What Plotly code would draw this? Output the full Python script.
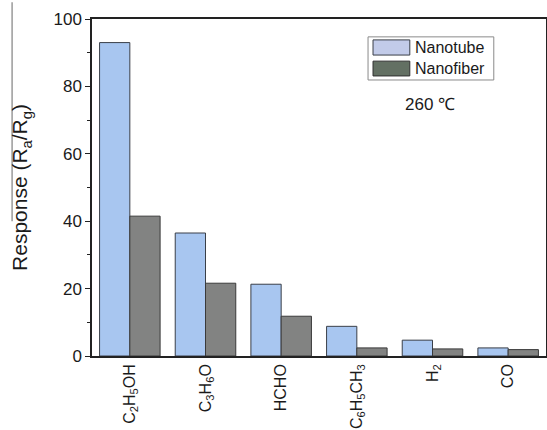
import plotly.graph_objects as go

# Gas response of the two sensor morphologies at 260 °C
gases = ["C<sub>2</sub>H<sub>5</sub>OH", "C<sub>3</sub>H<sub>6</sub>O", "HCHO",
         "C<sub>6</sub>H<sub>5</sub>CH<sub>3</sub>", "H<sub>2</sub>", "CO"]
nanotube = [93.0, 36.5, 21.3, 8.8, 4.7, 2.4]
nanofiber = [41.5, 21.6, 11.8, 2.4, 2.1, 1.9]
y_ticks = [0, 20, 40, 60, 80, 100]
series_names = ["Nanotube", "Nanofiber"]

tube_color = "#a8c6f0"
fiber_color = "#828382"
positions = list(range(len(gases)))

fig = go.Figure()
fig.add_trace(go.Bar(
    x=positions, y=nanotube, name=series_names[0],
    marker=dict(color=tube_color, line=dict(color="#3a3f48", width=1)),
))
fig.add_trace(go.Bar(
    x=positions, y=nanofiber, name=series_names[1],
    marker=dict(color=fiber_color, line=dict(color="#3a3a3a", width=1)),
))

# Boxed key with wide swatches, placed in the upper right of the plot
key_shapes = [
    dict(type="rect", xref="paper", yref="paper",
         x0=0.608, x1=0.885, y0=0.819, y1=0.947,
         fillcolor="white", line=dict(color="#8a8a8a", width=1), layer="above"),
    dict(type="rect", xref="paper", yref="paper",
         x0=0.619, x1=0.700, y0=0.893, y1=0.938,
         fillcolor="#c2cbe9", line=dict(color="#3a3f48", width=1), layer="above"),
    dict(type="rect", xref="paper", yref="paper",
         x0=0.619, x1=0.700, y0=0.831, y1=0.875,
         fillcolor="#637063", line=dict(color="#2f2f2f", width=1), layer="above"),
]
key_labels = [
    dict(text=series_names[0], x=0.706, y=0.915, xref="paper", yref="paper",
         xanchor="left", yanchor="middle", showarrow=False,
         font=dict(size=16, color="#1a1a1a")),
    dict(text=series_names[1], x=0.706, y=0.853, xref="paper", yref="paper",
         xanchor="left", yanchor="middle", showarrow=False,
         font=dict(size=16, color="#1a1a1a")),
]

fig.update_layout(
    width=547, height=430,
    margin=dict(l=92, r=1, t=19, b=74),
    paper_bgcolor="white", plot_bgcolor="white",
    barmode="group", bargap=0.2, bargroupgap=0,
    font=dict(family="Liberation Sans, Arial", color="#1a1a1a"),
    showlegend=False,
    xaxis=dict(
        range=[-0.5, 5.5],
        tickmode="array", tickvals=positions, ticktext=gases,
        tickangle=-90, tickfont=dict(size=16),
        showline=True, linecolor="#222222", linewidth=1.5,
        mirror=True, ticks="", showgrid=False, zeroline=False,
        automargin=False,
    ),
    yaxis=dict(
        range=[0, 100],
        tickmode="array", tickvals=y_ticks,
        tickfont=dict(size=17),
        ticks="outside", ticklen=5, tickcolor="#222222",
        minor=dict(tickmode="array", tickvals=[10, 30, 50, 70, 90],
                   ticks="outside", ticklen=3, tickcolor="#222222"),
        showline=True, linecolor="#222222", linewidth=1.5,
        mirror=True, showgrid=False, zeroline=False,
        title=dict(text="Response (R<sub>a</sub>/R<sub>g</sub>)",
                   font=dict(size=21), standoff=20),
        automargin=False,
    ),
    annotations=key_labels + [dict(
        text="260 ℃", x=0.745, y=0.745, xref="paper", yref="paper",
        xanchor="center", yanchor="middle",
        showarrow=False, font=dict(size=17, color="#1a1a1a"),
    )],
    shapes=key_shapes + [dict(
        type="line", xref="paper", yref="paper",
        x0=-0.176, x1=-0.176, y0=1.05, y1=0.4,
        line=dict(color="#9a9a9a", width=1.5),
    )],
)

fig.write_html("out.html")
